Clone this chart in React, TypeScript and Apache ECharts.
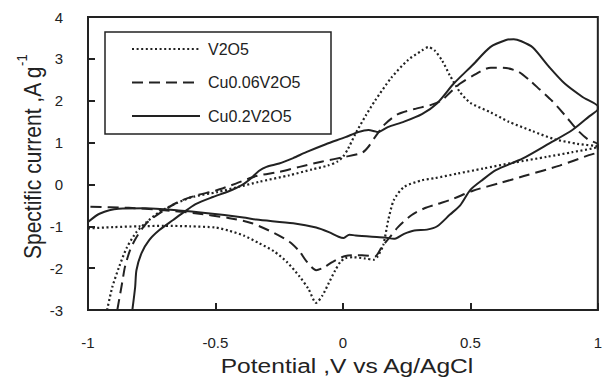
import React, { useEffect, useRef } from "react";
import * as echarts from "echarts";

const xTicks = [-1, -0.5, 0, 0.5, 1];
const yTicks = [-3, -2, -1, 0, 1, 2, 3, 4];
const seriesNames = ["V2O5", "Cu0.06V2O5", "Cu0.2V2O5"];

// V2O5 (dotted): anodic sweep then cathodic return, [potential V, current A/g]
const v2o5: [number, number][] = [
  [-0.925, -3.0], [-0.905, -2.46], [-0.878, -1.97], [-0.847, -1.5], [-0.81, -1.14],
  [-0.77, -0.9], [-0.72, -0.66], [-0.654, -0.45], [-0.59, -0.3], [-0.49, -0.18],
  [-0.41, -0.06], [-0.33, 0.06], [-0.21, 0.22], [-0.12, 0.36], [-0.06, 0.45],
  [-0.02, 0.55], [0.0, 0.66], [0.02, 0.85], [0.05, 1.22], [0.09, 1.65],
  [0.126, 2.0], [0.19, 2.55], [0.255, 2.97], [0.31, 3.2], [0.335, 3.28],
  [0.36, 3.2], [0.39, 2.95], [0.42, 2.6], [0.46, 2.2], [0.5, 1.95],
  [0.58, 1.72], [0.65, 1.5], [0.745, 1.27], [0.83, 1.08], [0.92, 0.97], [1.0, 0.9],
  [0.9, 0.77], [0.8, 0.66], [0.67, 0.52], [0.55, 0.38], [0.45, 0.26],
  [0.36, 0.15], [0.31, 0.1], [0.24, -0.06], [0.2, -0.37], [0.178, -0.85],
  [0.158, -1.45], [0.135, -1.73], [0.12, -1.8], [0.088, -1.77], [0.04, -1.74],
  [0.01, -1.76], [-0.01, -1.85], [-0.03, -2.05], [-0.055, -2.35], [-0.08, -2.65],
  [-0.105, -2.83], [-0.135, -2.5], [-0.17, -2.2], [-0.22, -1.85], [-0.27, -1.6],
  [-0.33, -1.4], [-0.39, -1.22], [-0.45, -1.1], [-0.5, -1.03], [-0.6, -1.0],
  [-0.7, -0.99], [-0.8, -1.0], [-0.9, -1.02], [-1.0, -1.05],
];

// Cu0.06V2O5 (dashed)
const cu006: [number, number][] = [
  [-0.885, -3.0], [-0.866, -2.35], [-0.855, -1.97], [-0.835, -1.57], [-0.81, -1.26],
  [-0.77, -0.92], [-0.72, -0.69], [-0.65, -0.43], [-0.58, -0.27], [-0.5, -0.15],
  [-0.42, 0.02], [-0.34, 0.2], [-0.25, 0.3], [-0.17, 0.42], [-0.08, 0.55],
  [0.01, 0.66], [0.076, 0.76], [0.1, 0.9], [0.126, 1.13], [0.165, 1.44],
  [0.216, 1.68], [0.28, 1.8], [0.346, 1.9], [0.385, 2.0], [0.43, 2.25],
  [0.46, 2.41], [0.51, 2.6], [0.58, 2.79], [0.64, 2.78], [0.69, 2.69],
  [0.73, 2.5], [0.77, 2.28], [0.82, 2.0], [0.87, 1.66], [0.92, 1.3],
  [0.96, 1.08], [1.0, 0.95],
  [1.0, 0.78], [0.965, 0.7], [0.85, 0.45], [0.71, 0.2], [0.62, 0.04],
  [0.51, -0.15], [0.43, -0.35], [0.37, -0.47], [0.32, -0.57], [0.27, -0.73],
  [0.216, -1.02], [0.184, -1.26], [0.152, -1.5], [0.126, -1.72], [0.075, -1.69],
  [0.01, -1.71], [-0.04, -1.85], [-0.08, -2.0], [-0.105, -2.05], [-0.145, -1.82],
  [-0.17, -1.6], [-0.21, -1.37], [-0.27, -1.16], [-0.36, -0.92], [-0.45, -0.8],
  [-0.58, -0.69], [-0.71, -0.61], [-0.84, -0.56], [-1.0, -0.53],
];

// Cu0.2V2O5 (solid)
const cu02: [number, number][] = [
  [-0.826, -3.0], [-0.815, -2.45], [-0.81, -2.05], [-0.79, -1.64], [-0.76, -1.33],
  [-0.72, -1.09], [-0.666, -0.85], [-0.628, -0.68], [-0.578, -0.47], [-0.51, -0.3],
  [-0.45, -0.17], [-0.395, -0.01], [-0.36, 0.15], [-0.33, 0.32], [-0.3, 0.42],
  [-0.25, 0.5], [-0.195, 0.63], [-0.144, 0.77], [-0.067, 0.96], [0.01, 1.13],
  [0.06, 1.25], [0.1, 1.3], [0.125, 1.27], [0.138, 1.25], [0.176, 1.37],
  [0.24, 1.5], [0.31, 1.68], [0.37, 1.94], [0.435, 2.41], [0.51, 2.86],
  [0.578, 3.28], [0.64, 3.45], [0.67, 3.47], [0.7, 3.42], [0.745, 3.27],
  [0.81, 2.8], [0.87, 2.41], [0.94, 2.09], [1.0, 1.86],
  [1.0, 1.8], [0.965, 1.62], [0.9, 1.3], [0.81, 0.98], [0.706, 0.62],
  [0.6, 0.34], [0.55, 0.12], [0.5, -0.13], [0.46, -0.5], [0.42, -0.72],
  [0.37, -1.0], [0.33, -1.08], [0.28, -1.1], [0.24, -1.18], [0.2, -1.3],
  [0.165, -1.27], [0.114, -1.25], [0.05, -1.22], [0.025, -1.2], [0.003, -1.28],
  [-0.017, -1.25], [-0.055, -1.14], [-0.105, -1.03], [-0.195, -0.93], [-0.34, -0.84],
  [-0.39, -0.79], [-0.54, -0.68], [-0.645, -0.62], [-0.775, -0.57], [-0.88, -0.58],
  [-0.955, -0.7], [-1.0, -0.9],
];

const INK = "#222";
const FONT = "'Liberation Sans', Arial, Helvetica, sans-serif";

export default function App() {
  const ref = useRef<HTMLDivElement>(null);
  useEffect(() => {
    if (!ref.current) return;
    const chart = echarts.init(ref.current, null, { renderer: "svg" });
    const lineBase = { type: "line", showSymbol: false, symbol: "none", smooth: 0.25, clip: true };
    chart.setOption({
      animation: false,
      backgroundColor: "#fff",
      textStyle: { fontFamily: FONT },
      grid: {
        left: 88, right: -1, top: 17, bottom: 71,
        show: true, borderColor: INK, borderWidth: 2, backgroundColor: "transparent",
      },
      xAxis: {
        type: "value",
        min: xTicks[0], max: xTicks[xTicks.length - 1], interval: 0.5,
        axisLine: { show: true, onZero: false, lineStyle: { color: INK, width: 2 } },
        axisTick: { show: true, inside: true, length: 7, lineStyle: { color: INK, width: 2 } },
        axisLabel: { fontSize: 15, color: INK, margin: 25, fontFamily: FONT },
        splitLine: { show: false },
      },
      yAxis: {
        type: "value",
        min: yTicks[0], max: yTicks[yTicks.length - 1], interval: 1,
        axisLine: { show: true, onZero: false, lineStyle: { color: INK, width: 2 } },
        axisTick: { show: true, inside: true, length: 7, lineStyle: { color: INK, width: 2 } },
        axisLabel: { fontSize: 15, color: INK, margin: 25, fontFamily: FONT },
        splitLine: { show: false },
      },
      legend: {
        show: true,
        orient: "vertical",
        left: 131, top: 41,
        padding: 0,
        itemWidth: 68, itemHeight: 16, itemGap: 17.5,
        itemStyle: { opacity: 0, borderWidth: 0 },
        textStyle: { fontSize: 16, color: INK, fontFamily: FONT, padding: [0, 0, 0, 3] },
        data: seriesNames,
      },
      graphic: [
        {
          type: "rect",
          shape: { x: 105, y: 32, width: 226, height: 102 },
          style: { fill: "none", stroke: INK, lineWidth: 1.5 },
          z: 10,
        },
        {
          type: "text",
          x: 347, y: 366,
          scaleX: 1.17,
          style: {
            text: "Potential ,V vs Ag/AgCl",
            fill: INK, fontSize: 21, fontFamily: FONT,
            align: "center", verticalAlign: "middle",
            textAlign: "center", textVerticalAlign: "middle",
          },
        },
        {
          type: "text",
          x: 29, y: 157,
          rotation: Math.PI / 2,
          scaleY: 1.17,
          style: {
            text: "{a|Spectific current ,A g}{b|-1}",
            fill: INK,
            align: "center", verticalAlign: "middle",
            textAlign: "center", textVerticalAlign: "middle",
            rich: {
              a: { fontSize: 21, fontFamily: FONT, fill: INK, lineHeight: 26, verticalAlign: "bottom" },
              b: { fontSize: 13, fontFamily: FONT, fill: INK, lineHeight: 13, verticalAlign: "top" },
            },
          },
        },
      ],
      series: [
        {
          ...lineBase, name: seriesNames[0], data: v2o5,
          lineStyle: { color: INK, width: 2.2, type: [2, 2.6] },
          itemStyle: { color: INK },
        },
        {
          ...lineBase, name: seriesNames[1], data: cu006,
          lineStyle: { color: INK, width: 2, type: [11, 6] },
          itemStyle: { color: INK },
        },
        {
          ...lineBase, name: seriesNames[2], data: cu02,
          lineStyle: { color: INK, width: 2, type: "solid" },
          itemStyle: { color: INK },
        },
      ],
    });
    return () => chart.dispose();
  }, []);
  return <div ref={ref} style={{ width: 605, height: 381, position: "absolute", left: 0, top: 0 }} />;
}
